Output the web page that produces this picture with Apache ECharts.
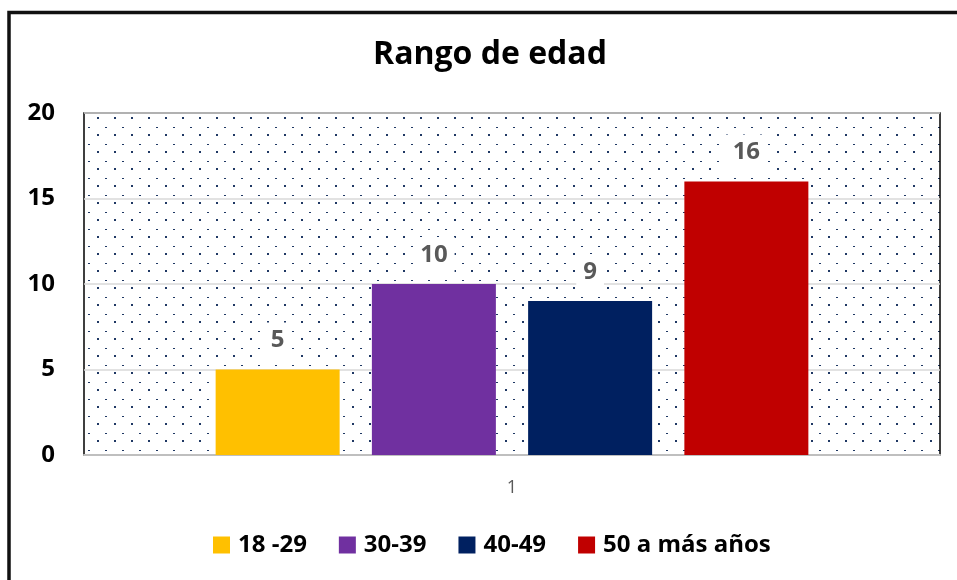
<!DOCTYPE html>
<html>
<head>
<meta charset="utf-8">
<script src="https://cdn.jsdelivr.net/npm/echarts@6/dist/echarts.min.js"></script>
<style>
  html, body { margin: 0; padding: 0; background: #fff; }
  #main { width: 957px; height: 580px; }
</style>
</head>
<body>
<div id="main"></div>
<script>
  // datos
  const categories = ['1']
  const seriesNames = ['18 -29', '30-39', '40-49', '50 a más años']
  const seriesValues = [[5], [10], [9], [16]]
  const seriesColors = ['#FFC000', '#7030A0', '#002060', '#C00000']
  const yTicks = [0, 5, 10, 15, 20]

  const FONT = 'Open Sans'

  // trama de puntos del fondo
  function dotPattern () {
    const c = document.createElement('canvas')
    c.width = 17
    c.height = 17
    const ctx = c.getContext('2d')
    ctx.fillStyle = '#fff'
    ctx.fillRect(0, 0, 17, 17)
    ctx.fillStyle = '#1F3864'
    ctx.fillRect(12, 15, 2, 2)
    ctx.fillRect(3, 8, 2, 1)
    return c
  }

  const chart = echarts.init(document.getElementById('main'))
  chart.setOption({
    backgroundColor: '#fff',
    animation: false,
    title: {
      text: 'Rango de edad',
      left: 368,
      top: 34,
      textStyle: { fontFamily: FONT, fontWeight: 'bold', fontSize: 32, color: '#000' }
    },
    graphic: [{
      type: 'rect',
      shape: { x: 9, y: 12.5, width: 1000, height: 1000 },
      style: { fill: null, stroke: '#111', lineWidth: 3.5 },
      silent: true
    }],
    legend: {
      data: seriesNames,
      top: 528,
      left: 208,
      itemWidth: 17,
      itemHeight: 17,
      itemGap: 32,
      icon: 'rect',
      textStyle: { fontFamily: FONT, fontWeight: 'bold', fontSize: 24, color: '#000', padding: [0, 0, 0, 3] }
    },
    grid: {
      left: 84,
      right: 17,
      top: 113,
      bottom: 125,
      show: true,
      backgroundColor: { image: dotPattern(), repeat: 'repeat' },
      borderColor: '#000',
      borderWidth: 1.5
    },
    xAxis: {
      type: 'category',
      data: categories,
      axisLine: { show: true, lineStyle: { color: '#BFBFBF', width: 2 } },
      axisTick: { show: false },
      axisLabel: { fontFamily: FONT, fontSize: 18, color: '#595959', margin: 24 }
    },
    yAxis: {
      type: 'value',
      min: yTicks[0],
      max: yTicks[yTicks.length - 1],
      interval: yTicks[1] - yTicks[0],
      axisLine: { show: false },
      axisTick: { show: false },
      splitLine: { lineStyle: { color: '#D9D9D9', width: 1.5 } },
      axisLabel: { fontFamily: FONT, fontWeight: 'bold', fontSize: 24, color: '#000', margin: 29 }
    },
    series: seriesNames.map((name, i) => ({
      name: name,
      type: 'bar',
      data: seriesValues[i],
      barWidth: 124,
      barGap: '26%',
      itemStyle: { color: seriesColors[i] },
      label: {
        show: true,
        position: 'top',
        distance: 9,
        fontFamily: FONT,
        fontWeight: 'bold',
        fontSize: 24,
        color: '#595959',
        backgroundColor: '#fff',
        padding: [6, 7, 8, 7]
      }
    }))
  })
</script>
</body>
</html>
